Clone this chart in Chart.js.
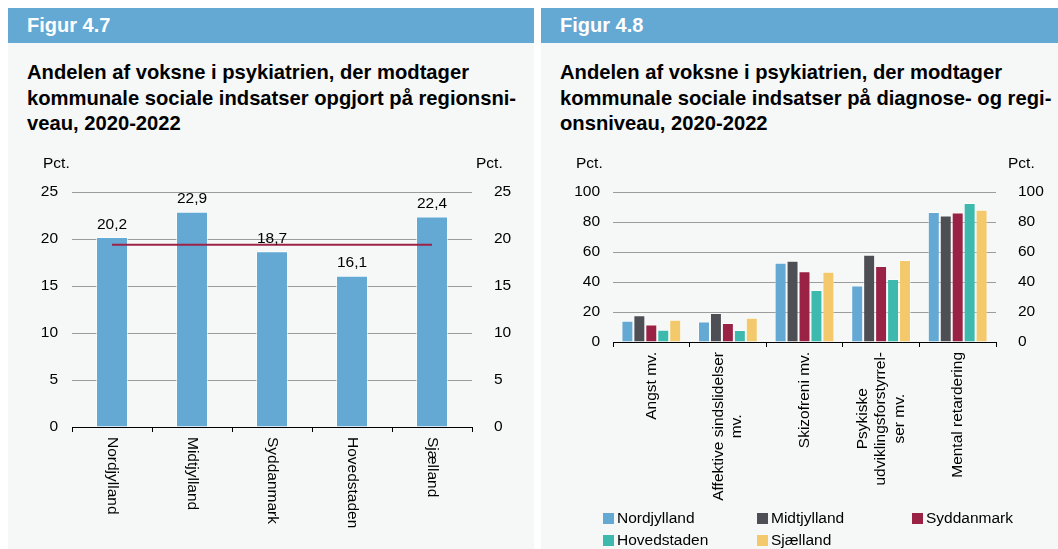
<!DOCTYPE html>
<html>
<head>
<meta charset="utf-8">
<script src="https://cdn.jsdelivr.net/npm/chart.js@4.4.1/dist/chart.umd.min.js"></script>
<style>
  body { margin: 0; background: #fff; font-family: "Liberation Sans", Arial, sans-serif; width: 1058px; height: 549px; position: relative; overflow: hidden; }
  .panel { position: absolute; top: 8px; height: 541px; background: #f6f8f8; }
  .head { height: 35px; background: #64a9d4; color: #fff; font-weight: bold; font-size: 20px; line-height: 35px; padding-left: 19px; }
  .title { margin: 17px 0 0 19px; font-weight: bold; font-size: 20.2px; line-height: 25.5px; color: #000; }
  .box { position: absolute; }
  .legend { position: absolute; left: 603px; top: 507px; width: 440px; font-size: 15.5px; color: #000; }
  .legend span.item { position: absolute; height: 22px; line-height: 22px; white-space: nowrap; }
  .legend i { display: inline-block; width: 11px; height: 11px; margin-right: 3px; vertical-align: -1px; }
</style>
</head>
<body>
<div class="panel" style="left:8px;width:526px">
  <div class="head">Figur 4.7</div>
  <div class="title">Andelen af voksne i psykiatrien, der modtager<br>kommunale sociale indsatser opgjort på regionsni-<br>veau, 2020-2022</div>
</div>
<div class="panel" style="left:541px;width:517px">
  <div class="head">Figur 4.8</div>
  <div class="title">Andelen af voksne i psykiatrien, der modtager<br>kommunale sociale indsatser på diagnose- og regi-<br>onsniveau, 2020-2022</div>
</div>
<div class="box" style="left:8px;top:150px"><canvas id="c1" width="526" height="399"></canvas></div>
<div class="box" style="left:541px;top:150px"><canvas id="c2" width="517" height="360"></canvas></div>
<div class="legend" id="legend"></div>

<script>
// data, figur 4.7
const regions = ["Nordjylland", "Midtjylland", "Syddanmark", "Hovedstaden", "Sjælland"];
const regionShare = [20.2, 22.9, 18.7, 16.1, 22.4];
const regionAverage = [19.4, 19.4, 19.4, 19.4, 19.4]; // landsgennemsnit (line)

// data, figur 4.8
const diagnoses = ["Angst mv.", ["Affektive sindslidelser", "mv."], "Skizofreni mv.", ["Psykiske", "udviklingsforstyrrel-", "ser mv."], "Mental retardering"];
const nordjylland = [14.2, 13.6, 52.9, 37.6, 86.7];
const midtjylland = [17.8, 19.3, 54.2, 58.2, 84.4];
const syddanmark = [11.6, 12.7, 47.1, 50.7, 86.4];
const hovedstaden = [8.2, 8.0, 34.7, 42.0, 92.7];
const sjaelland = [14.9, 16.2, 46.9, 54.7, 88.2];
const regionColors = ["#64a9d4", "#4d4f55", "#9a2245", "#3dbaad", "#f3c96b"];

const FONT = "15.5px 'Liberation Sans', Arial, sans-serif";
Chart.defaults.font.family = "'Liberation Sans', Arial, sans-serif";
Chart.defaults.font.size = 15.5;
Chart.defaults.color = "#000";

const gridColor = (ctx) => (ctx.tick && ctx.tick.value === 0 ? "rgba(0,0,0,0)" : "#9c9c9c");

// "Pct." over both value axes
const pctLabels = (leftX, rightX) => ({
  id: "pct",
  afterDraw(chart) {
    const ctx = chart.ctx;
    ctx.save();
    ctx.fillStyle = "#000";
    ctx.font = FONT;
    ctx.textBaseline = "middle";
    ctx.textAlign = "left";
    ctx.fillText("Pct.", leftX, 14);
    ctx.fillText("Pct.", rightX, 14);
    ctx.restore();
  }
});

// category labels under the x axis; dir 1 = reads downwards, -1 = reads upwards
const categoryLabels = (labels, dir) => ({
  id: "catLabels",
  afterDraw(chart) {
    const ctx = chart.ctx;
    const xs = chart.scales.x;
    const lineH = 18.5;
    ctx.save();
    ctx.fillStyle = "#000";
    ctx.font = FONT;
    ctx.textBaseline = "middle";
    labels.forEach((lab, i) => {
      const lines = Array.isArray(lab) ? lab : [lab];
      const w = Math.max(...lines.map(l => ctx.measureText(l).width));
      const x = xs.getPixelForTick(i);
      const y = xs.top + 10;
      ctx.save();
      ctx.translate(x, y);
      ctx.rotate(dir * Math.PI / 2);
      ctx.textAlign = "center";
      lines.forEach((l, j) => {
        const off = (j - (lines.length - 1) / 2) * lineH;
        ctx.fillText(l, dir > 0 ? w / 2 : -w / 2, dir > 0 ? -off : off);
      });
      ctx.restore();
    });
    ctx.restore();
  }
});

// value labels above the bars in figur 4.7
const valueLabels = {
  id: "values",
  afterDatasetsDraw(chart) {
    const ctx = chart.ctx;
    const meta = chart.getDatasetMeta(1);
    ctx.save();
    ctx.fillStyle = "#000";
    ctx.font = FONT;
    ctx.textAlign = "center";
    ctx.textBaseline = "bottom";
    meta.data.forEach((bar, i) => {
      ctx.fillText(regionShare[i].toFixed(1).replace(".", ","), bar.x, bar.y - 5);
    });
    ctx.restore();
  }
};

new Chart(document.getElementById("c1"), {
  type: "bar",
  data: {
    labels: regions,
    datasets: [
      { type: "line", data: regionAverage, borderColor: "#9c2247", borderWidth: 2, pointRadius: 0, order: 0 },
      { type: "bar", data: regionShare, backgroundColor: "#64a9d4", borderColor: "rgba(255,255,255,0.6)", borderWidth: 1,
        categoryPercentage: 1, barPercentage: 0.4, order: 1 }
    ]
  },
  options: {
    responsive: false,
    animation: false,
    layout: { padding: { top: 42, left: 0, right: 0, bottom: 0 } },
    plugins: { legend: { display: false }, tooltip: { enabled: false } },
    scales: {
      x: {
        grid: { offset: true, drawOnChartArea: false, color: "#000", tickLength: 5 },
        border: { color: "#000" },
        ticks: { display: false },
        afterFit: (s) => { s.height = 122; }
      },
      y: {
        min: 0, max: 25,
        ticks: { stepSize: 5, padding: 14 },
        grid: { color: gridColor, drawTicks: false },
        border: { display: false },
        afterFit: (s) => { s.width = 64; }
      },
      y2: {
        position: "right", min: 0, max: 25,
        ticks: { stepSize: 5, padding: 14 },
        grid: { display: false },
        border: { display: false },
        afterFit: (s) => { s.width = 62; }
      }
    }
  },
  plugins: [pctLabels(35, 468), categoryLabels(regions, 1), valueLabels]
});

const series = [nordjylland, midtjylland, syddanmark, hovedstaden, sjaelland];

new Chart(document.getElementById("c2"), {
  type: "bar",
  data: {
    labels: diagnoses,
    datasets: series.map((d, i) => ({
      label: regions[i],
      data: d,
      backgroundColor: regionColors[i],
      borderColor: "rgba(255,255,255,0.45)",
      borderWidth: 1,
      categoryPercentage: 0.78,
      barPercentage: 1
    }))
  },
  options: {
    responsive: false,
    animation: false,
    layout: { padding: { top: 42, left: 0, right: 0, bottom: 0 } },
    plugins: { legend: { display: false }, tooltip: { enabled: false } },
    scales: {
      x: {
        grid: { offset: true, drawOnChartArea: false, color: "#000", tickLength: 5 },
        border: { color: "#000" },
        ticks: { display: false },
        afterFit: (s) => { s.height = 168; }
      },
      y: {
        min: 0, max: 100,
        ticks: { stepSize: 20, padding: 13 },
        grid: { color: gridColor, drawTicks: false },
        border: { display: false },
        afterFit: (s) => { s.width = 72; }
      },
      y2: {
        position: "right", min: 0, max: 100,
        ticks: { stepSize: 20, padding: 14 },
        grid: { display: false },
        border: { display: false },
        afterFit: (s) => { s.width = 62; }
      }
    }
  },
  plugins: [pctLabels(35, 467), categoryLabels(diagnoses, -1)]
});

// legend in three columns
const legend = document.getElementById("legend");
const cols = [0, 154, 309];
regions.forEach((name, i) => {
  const el = document.createElement("span");
  el.className = "item";
  el.style.left = cols[i % 3] + "px";
  el.style.top = Math.floor(i / 3) * 22 + "px";
  el.innerHTML = '<i style="background:' + regionColors[i] + '"></i>' + name;
  legend.appendChild(el);
});
</script>
</body>
</html>
